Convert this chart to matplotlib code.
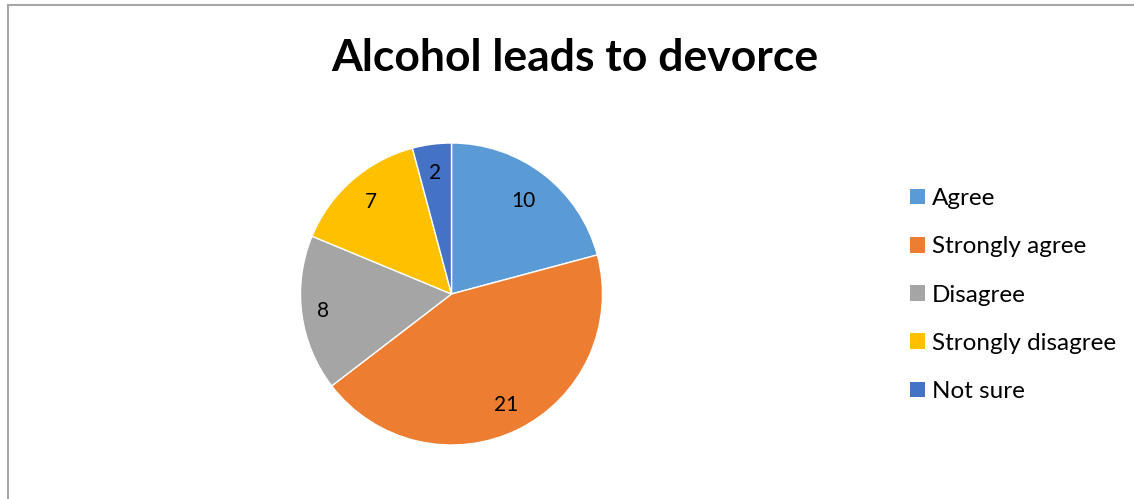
import numpy as np
import matplotlib.pyplot as plt
from matplotlib.patches import Patch
from matplotlib.lines import Line2D

plt.rcParams['font.family'] = ['Lato', 'DejaVu Sans']

# survey answers
labels = ['Agree', 'Strongly agree', 'Disagree', 'Strongly disagree', 'Not sure']
counts = [10, 21, 8, 7, 2]
colors = ['#5B9BD5', '#ED7D31', '#A5A5A5', '#FFC000', '#4472C4']
label_dist = [0.78, 0.82, 0.86, 0.81, 0.81]

W, H = 1134, 499
fig = plt.figure(figsize=(W / 100, H / 100), dpi=100)

# pie axes placed by pixel centre / radius
cx, cy, r = 451.5, 294, 151
ax = fig.add_axes([(cx - r) / W, 1 - (cy + r) / H, 2 * r / W, 2 * r / H])
wedges, _ = ax.pie(counts, colors=colors, startangle=90, counterclock=False,
                   radius=1, wedgeprops=dict(edgecolor='white', linewidth=1))
ax.set_xlim(-1, 1)
ax.set_ylim(-1, 1)
ax.set_aspect('equal')
ax.axis('off')

for w, n, d in zip(wedges, counts, label_dist):
    ang = np.deg2rad((w.theta1 + w.theta2) / 2)
    ax.text(d * np.cos(ang), d * np.sin(ang), str(n), ha='center', va='center',
            fontsize=15, color='#000000')

fig.text(575 / W, 1 - 58 / H, 'Alcohol leads to devorce', ha='center', va='center',
         fontsize=32, fontweight='bold')

handles = [Patch(facecolor=c, edgecolor='none') for c in colors]
fig.legend(handles, labels, loc='center left', bbox_to_anchor=(900 / W, 1 - 295 / H),
           frameon=False, fontsize=17.5, handlelength=0.62, handleheight=0.62,
           handletextpad=0.3, labelspacing=1.12, borderaxespad=0)

# chart-area border (left and top edges)
fig.add_artist(Line2D([7.5 / W, 7.5 / W], [0, 1 - 5 / H], color='#A6A6A6', lw=1.5))
fig.add_artist(Line2D([7.5 / W, 1], [1 - 5 / H, 1 - 5 / H], color='#A6A6A6', lw=1.5))

fig.savefig('out.png', dpi=100)
